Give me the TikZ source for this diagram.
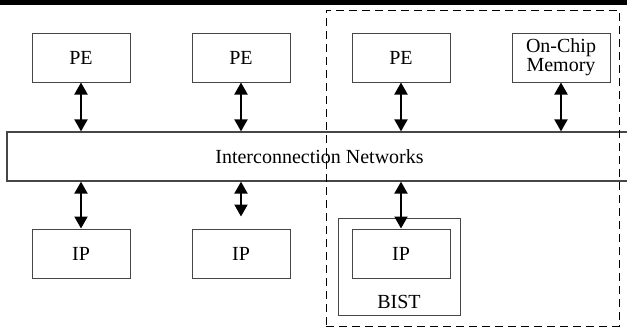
\documentclass[tikz,border=0pt]{standalone}
\usepackage{fontspec}
\setmainfont{Liberation Serif}
\usepackage{xcolor}
\usetikzlibrary{arrows.meta, positioning}
\definecolor{linegray}{RGB}{70, 70, 70}

\begin{document}
\begin{tikzpicture}[x=1pt, y=-1pt,
  node distance=48pt and 61pt,
  box/.style={rectangle, draw=linegray, line width=1pt, inner sep=0pt,
              minimum width=98pt, minimum height=49pt, align=center,
              font=\fontsize{20}{19}\selectfont},
  bus/.style={rectangle, draw=linegray, line width=1.2pt, inner sep=0pt,
              minimum width=625pt, minimum height=49pt, font=\fontsize{20}{19}\selectfont},
  frame/.style={rectangle, draw=linegray, line width=1pt, inner sep=0pt,
                minimum width=122pt, minimum height=97pt},
  group/.style={rectangle, draw=black, line width=1pt, dash pattern=on 8pt off 5pt,
                inner sep=0pt, minimum width=293pt, minimum height=316pt},
  arrow/.style={{Triangle[width=13pt,length=12pt]}-{Triangle[width=13pt,length=12pt]},
                line width=2pt, black}
]
\useasboundingbox (0,0) rectangle (627,330);
\clip (0,0) rectangle (627,330);
\fill[black] (0,0) rectangle (627,5);

% Processing elements
\node[box] (pe1) at (81,57.5) {PE};
\node[box, right=of pe1] (pe2) {PE};
\node[box, right=of pe2] (pe3) {PE};
\node[box, right=of pe3] (mem) {On-Chip\\Memory};

% Network
\node[bus] (net) at (319.5,156.5) {Interconnection Networks};

% IP cores
\node[box] (ip1) at (81,253.5) {IP};
\node[box, right=of ip1] (ip2) {IP};
\node[box, right=of ip2] (ip3) {IP};
\node[frame] (bist) at (399,266.5) {};
\node[font=\fontsize{20}{19}\selectfont] (bistlbl) at (399,302) {BIST};
\coordinate[above=12pt of ip2] (ip2end);

% Test region
\node[group] (region) at (472.5,168) {};

% Arrows
\draw[arrow] (pe1.south) -- (pe1.south |- net.north);
\draw[arrow] (pe2.south) -- (pe2.south |- net.north);
\draw[arrow] (pe3.south) -- (pe3.south |- net.north);
\draw[arrow] (mem.south) -- (mem.south |- net.north);
\draw[arrow] (ip1.north |- net.south) -- (ip1.north);
\draw[arrow] (ip2end |- net.south) -- (ip2end);
\draw[arrow] (ip3.north |- net.south) -- (ip3.north);

\end{tikzpicture}
\end{document}
